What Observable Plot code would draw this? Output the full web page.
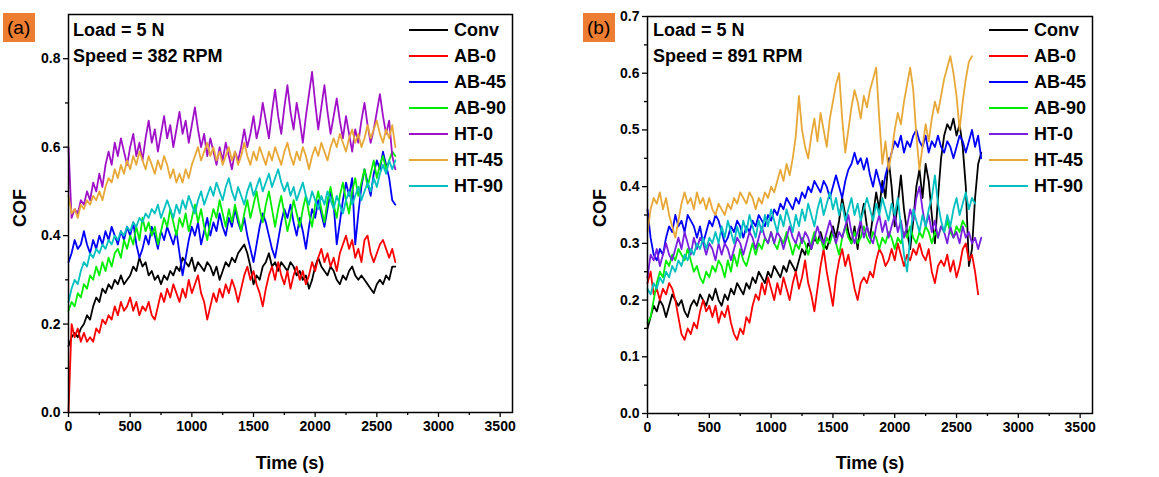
<!DOCTYPE html>
<html>
<head>
<meta charset="utf-8">
<script src="https://cdn.jsdelivr.net/npm/d3@7"></script>
<script src="https://cdn.jsdelivr.net/npm/@observablehq/plot@0.6"></script>
<style>
  html, body { margin: 0; padding: 0; background: #fff; }
  #wrap { position: relative; width: 1159px; height: 477px; overflow: hidden; font-family: "Liberation Sans", Arial, sans-serif; }
  .panel { position: absolute; top: 0; }
  .panel text { font-size: 14px !important; font-weight: bold; fill: #000; }
  .txt { position: absolute; font-weight: bold; font-size: 18px; color: #000; white-space: nowrap; line-height: 1; }
  .tag { position: absolute; background: #ed7d31; font-size: 19px; color: #000; line-height: 1; padding: 5px 5px 5px 4px; }
  .leg { position: absolute; height: 2px; width: 39px; }
  .ylab { position: absolute; font-weight: bold; font-size: 18px; transform: translate(-50%, -50%) rotate(-90deg); white-space: nowrap; }
</style>
</head>
<body>
<div id="wrap"></div>
<script>
// ---------------- data ----------------
const timeStep = 25; // s between samples
const seriesNames = ["Conv", "AB-0", "AB-45", "AB-90", "HT-0", "HT-45", "HT-90"];
const colorsA = ["#000000", "#ff0000", "#0000ff", "#00ee00", "#a010c8", "#e8a838", "#00c0c0"];
const colorsB = ["#000000", "#ff0000", "#0000ff", "#00ee00", "#7a1ee0", "#e8a838", "#00c0c0"];
const xTicks = [0, 500, 1000, 1500, 2000, 2500, 3000, 3500];
const xMinorTicks = [250, 750, 1250, 1750, 2250, 2750, 3250];
const yTicksA = [0, 0.2, 0.4, 0.6, 0.8];
const yMinorA = [0.1, 0.3, 0.5, 0.7];
const yTicksB = [0, 0.1, 0.2, 0.3, 0.4, 0.5, 0.6, 0.7];
const yMinorB = [0.05, 0.15, 0.25, 0.35, 0.45, 0.55, 0.65];

// Panel (a): Load = 5 N, Speed = 382 RPM
const convA = [0.15,0.17,0.18,0.17,0.19,0.20,0.22,0.21,0.24,0.26,0.25,0.28,0.27,0.29,0.28,0.30,0.29,0.31,0.29,0.30,0.31,0.33,0.32,0.35,0.33,0.34,0.31,0.32,0.30,0.31,0.29,0.31,0.30,0.32,0.31,0.33,0.32,0.35,0.34,0.33,0.35,0.32,0.34,0.33,0.32,0.34,0.33,0.31,0.33,0.30,0.32,0.34,0.33,0.35,0.34,0.36,0.37,0.38,0.36,0.33,0.29,0.31,0.30,0.33,0.34,0.36,0.33,0.34,0.32,0.34,0.33,0.32,0.34,0.33,0.31,0.32,0.30,0.31,0.28,0.30,0.33,0.35,0.33,0.32,0.31,0.33,0.32,0.30,0.29,0.31,0.30,0.32,0.33,0.31,0.30,0.31,0.30,0.29,0.28,0.27,0.29,0.30,0.29,0.31,0.30,0.33,0.33];
const ab0A = [0.0,0.20,0.17,0.19,0.16,0.18,0.16,0.17,0.16,0.19,0.18,0.21,0.20,0.22,0.21,0.24,0.22,0.25,0.23,0.24,0.26,0.23,0.25,0.22,0.24,0.23,0.25,0.22,0.21,0.24,0.27,0.25,0.28,0.26,0.29,0.27,0.25,0.28,0.26,0.30,0.27,0.29,0.31,0.27,0.25,0.21,0.24,0.27,0.25,0.28,0.26,0.29,0.27,0.30,0.28,0.25,0.28,0.31,0.33,0.30,0.32,0.29,0.27,0.24,0.28,0.31,0.33,0.30,0.34,0.31,0.29,0.32,0.28,0.31,0.33,0.30,0.32,0.29,0.31,0.34,0.32,0.35,0.37,0.34,0.36,0.33,0.35,0.32,0.36,0.38,0.40,0.37,0.39,0.35,0.37,0.34,0.39,0.40,0.36,0.34,0.36,0.38,0.39,0.37,0.35,0.37,0.34];
const ab45A = [0.34,0.36,0.39,0.37,0.38,0.41,0.38,0.36,0.39,0.37,0.40,0.38,0.41,0.39,0.42,0.40,0.38,0.41,0.39,0.42,0.40,0.43,0.38,0.35,0.37,0.40,0.38,0.42,0.40,0.37,0.41,0.39,0.42,0.40,0.38,0.41,0.36,0.31,0.35,0.39,0.42,0.40,0.43,0.38,0.41,0.44,0.40,0.43,0.41,0.45,0.42,0.40,0.44,0.42,0.46,0.43,0.41,0.44,0.40,0.37,0.34,0.38,0.42,0.45,0.43,0.40,0.37,0.35,0.39,0.43,0.46,0.44,0.47,0.43,0.40,0.44,0.41,0.37,0.42,0.46,0.44,0.48,0.45,0.42,0.46,0.50,0.47,0.38,0.43,0.48,0.52,0.49,0.53,0.38,0.45,0.51,0.55,0.52,0.49,0.54,0.57,0.55,0.59,0.56,0.53,0.48,0.47];
const ab90A = [0.23,0.25,0.24,0.27,0.26,0.29,0.28,0.31,0.30,0.33,0.31,0.34,0.32,0.35,0.33,0.36,0.37,0.35,0.39,0.37,0.40,0.38,0.42,0.39,0.44,0.41,0.43,0.40,0.42,0.38,0.41,0.44,0.42,0.46,0.43,0.40,0.44,0.42,0.45,0.41,0.44,0.47,0.43,0.46,0.42,0.39,0.43,0.46,0.44,0.48,0.45,0.42,0.46,0.43,0.47,0.44,0.41,0.45,0.48,0.44,0.47,0.50,0.46,0.43,0.47,0.50,0.46,0.42,0.46,0.49,0.45,0.41,0.44,0.48,0.45,0.42,0.46,0.49,0.45,0.42,0.47,0.50,0.46,0.43,0.48,0.51,0.47,0.44,0.49,0.52,0.48,0.45,0.50,0.53,0.49,0.52,0.55,0.51,0.54,0.57,0.53,0.56,0.58,0.55,0.57,0.59,0.58];
const ht0A = [0.60,0.44,0.46,0.45,0.48,0.47,0.50,0.48,0.52,0.50,0.54,0.51,0.56,0.59,0.56,0.61,0.58,0.62,0.59,0.56,0.60,0.63,0.58,0.61,0.57,0.62,0.66,0.61,0.64,0.59,0.63,0.67,0.62,0.65,0.60,0.64,0.68,0.63,0.66,0.61,0.65,0.69,0.64,0.60,0.63,0.58,0.62,0.59,0.56,0.60,0.57,0.61,0.58,0.55,0.59,0.57,0.60,0.64,0.60,0.63,0.67,0.62,0.65,0.70,0.66,0.62,0.68,0.73,0.67,0.63,0.69,0.74,0.68,0.64,0.70,0.66,0.61,0.67,0.72,0.77,0.70,0.64,0.69,0.74,0.68,0.63,0.67,0.71,0.66,0.62,0.67,0.63,0.59,0.64,0.61,0.66,0.70,0.65,0.61,0.64,0.68,0.72,0.67,0.63,0.66,0.58,0.55];
const ht45A = [0.49,0.45,0.46,0.44,0.47,0.46,0.48,0.47,0.49,0.48,0.50,0.48,0.51,0.53,0.52,0.55,0.53,0.56,0.54,0.57,0.55,0.58,0.56,0.59,0.57,0.55,0.58,0.56,0.54,0.57,0.55,0.58,0.56,0.53,0.55,0.52,0.54,0.52,0.55,0.53,0.56,0.58,0.60,0.57,0.59,0.61,0.58,0.60,0.57,0.59,0.56,0.58,0.60,0.57,0.59,0.56,0.58,0.61,0.58,0.56,0.59,0.57,0.60,0.58,0.56,0.59,0.57,0.60,0.58,0.56,0.59,0.61,0.58,0.56,0.59,0.57,0.60,0.58,0.55,0.58,0.60,0.58,0.61,0.59,0.57,0.60,0.62,0.60,0.63,0.61,0.59,0.62,0.64,0.61,0.63,0.60,0.62,0.65,0.62,0.64,0.66,0.63,0.61,0.64,0.62,0.65,0.60];
const ht90A = [0.25,0.28,0.30,0.29,0.32,0.34,0.33,0.36,0.35,0.37,0.36,0.38,0.37,0.39,0.38,0.40,0.39,0.41,0.40,0.42,0.41,0.43,0.42,0.44,0.43,0.45,0.44,0.46,0.45,0.47,0.44,0.46,0.48,0.46,0.44,0.47,0.45,0.48,0.46,0.49,0.47,0.45,0.48,0.50,0.47,0.49,0.51,0.49,0.52,0.50,0.48,0.51,0.53,0.50,0.48,0.51,0.49,0.47,0.50,0.52,0.49,0.51,0.53,0.50,0.52,0.54,0.51,0.53,0.55,0.52,0.50,0.52,0.49,0.51,0.48,0.50,0.52,0.49,0.47,0.50,0.48,0.46,0.49,0.47,0.50,0.48,0.46,0.49,0.47,0.45,0.48,0.50,0.47,0.49,0.51,0.48,0.50,0.52,0.50,0.53,0.51,0.54,0.56,0.54,0.57,0.55,0.57];

// Panel (b): Load = 5 N, Speed = 891 RPM
const convB = [0.15,0.17,0.19,0.18,0.20,0.19,0.17,0.19,0.21,0.20,0.19,0.20,0.18,0.17,0.19,0.20,0.19,0.21,0.20,0.19,0.21,0.20,0.22,0.20,0.19,0.21,0.20,0.22,0.21,0.23,0.22,0.21,0.23,0.22,0.24,0.23,0.25,0.24,0.23,0.25,0.24,0.26,0.25,0.24,0.26,0.25,0.27,0.26,0.25,0.27,0.29,0.28,0.30,0.29,0.31,0.30,0.32,0.30,0.29,0.31,0.33,0.31,0.34,0.38,0.35,0.32,0.30,0.33,0.29,0.34,0.37,0.33,0.31,0.35,0.39,0.36,0.41,0.38,0.45,0.40,0.33,0.37,0.42,0.36,0.32,0.29,0.34,0.40,0.43,0.38,0.44,0.41,0.35,0.30,0.38,0.45,0.49,0.51,0.50,0.52,0.49,0.51,0.47,0.40,0.26,0.29,0.38,0.44,0.46];
const ab0B = [0.23,0.25,0.21,0.22,0.20,0.22,0.21,0.23,0.22,0.20,0.17,0.14,0.13,0.15,0.14,0.16,0.15,0.18,0.20,0.18,0.19,0.17,0.19,0.16,0.18,0.17,0.19,0.16,0.14,0.13,0.15,0.14,0.17,0.16,0.19,0.21,0.20,0.23,0.21,0.24,0.22,0.20,0.23,0.21,0.24,0.22,0.20,0.23,0.25,0.22,0.24,0.27,0.23,0.21,0.18,0.22,0.26,0.29,0.25,0.22,0.19,0.24,0.27,0.29,0.26,0.28,0.25,0.22,0.20,0.23,0.24,0.23,0.25,0.24,0.27,0.29,0.28,0.26,0.27,0.29,0.27,0.30,0.28,0.26,0.28,0.27,0.29,0.28,0.30,0.28,0.27,0.29,0.25,0.23,0.26,0.27,0.26,0.28,0.25,0.27,0.24,0.26,0.29,0.30,0.27,0.28,0.25,0.21];
const ab45B = [0.36,0.31,0.28,0.27,0.29,0.28,0.31,0.33,0.32,0.35,0.33,0.34,0.32,0.35,0.34,0.33,0.31,0.33,0.30,0.32,0.34,0.33,0.35,0.34,0.32,0.30,0.31,0.33,0.32,0.34,0.33,0.31,0.33,0.32,0.34,0.33,0.35,0.34,0.33,0.35,0.34,0.36,0.35,0.37,0.36,0.38,0.37,0.36,0.38,0.37,0.39,0.38,0.40,0.39,0.41,0.40,0.39,0.41,0.40,0.38,0.40,0.42,0.40,0.38,0.41,0.43,0.44,0.46,0.44,0.45,0.43,0.45,0.42,0.40,0.43,0.41,0.39,0.42,0.44,0.46,0.48,0.47,0.49,0.46,0.48,0.47,0.49,0.50,0.48,0.47,0.49,0.46,0.48,0.47,0.49,0.47,0.46,0.48,0.47,0.45,0.47,0.49,0.48,0.46,0.48,0.50,0.47,0.49,0.45];
const ab90B = [0.16,0.17,0.20,0.23,0.25,0.24,0.27,0.26,0.28,0.27,0.29,0.28,0.27,0.29,0.27,0.25,0.26,0.24,0.23,0.25,0.24,0.26,0.25,0.27,0.26,0.24,0.27,0.25,0.28,0.26,0.29,0.27,0.26,0.28,0.30,0.28,0.30,0.29,0.31,0.30,0.32,0.30,0.29,0.31,0.30,0.32,0.30,0.28,0.30,0.29,0.31,0.30,0.28,0.30,0.32,0.30,0.31,0.29,0.31,0.30,0.32,0.30,0.28,0.31,0.33,0.31,0.30,0.32,0.30,0.31,0.33,0.31,0.30,0.32,0.31,0.29,0.31,0.30,0.32,0.31,0.29,0.31,0.30,0.32,0.31,0.33,0.31,0.30,0.32,0.31,0.33,0.32,0.30,0.32,0.31,0.33,0.32,0.34,0.32,0.31,0.33,0.32,0.34,0.33];
const ht0B = [0.24,0.28,0.27,0.29,0.26,0.28,0.30,0.28,0.27,0.29,0.31,0.29,0.32,0.30,0.28,0.31,0.29,0.31,0.30,0.28,0.30,0.29,0.27,0.30,0.28,0.30,0.29,0.27,0.29,0.31,0.30,0.28,0.30,0.32,0.31,0.29,0.31,0.33,0.31,0.30,0.32,0.30,0.32,0.31,0.29,0.31,0.33,0.31,0.30,0.32,0.30,0.32,0.31,0.29,0.31,0.33,0.31,0.30,0.32,0.34,0.32,0.30,0.32,0.31,0.33,0.35,0.32,0.30,0.32,0.34,0.31,0.33,0.31,0.30,0.33,0.35,0.32,0.34,0.31,0.33,0.35,0.32,0.34,0.31,0.33,0.36,0.34,0.38,0.40,0.36,0.33,0.35,0.32,0.34,0.31,0.33,0.32,0.30,0.33,0.31,0.32,0.30,0.33,0.31,0.32,0.30,0.31,0.29,0.31];
const ht45B = [0.32,0.36,0.38,0.37,0.39,0.36,0.38,0.35,0.33,0.31,0.34,0.37,0.39,0.37,0.38,0.36,0.39,0.37,0.38,0.36,0.38,0.36,0.35,0.37,0.36,0.35,0.37,0.36,0.38,0.37,0.39,0.38,0.37,0.39,0.38,0.36,0.38,0.37,0.39,0.38,0.40,0.39,0.41,0.43,0.41,0.44,0.42,0.45,0.49,0.56,0.50,0.47,0.45,0.49,0.52,0.48,0.53,0.50,0.47,0.52,0.55,0.58,0.60,0.52,0.46,0.50,0.54,0.57,0.55,0.52,0.56,0.54,0.57,0.59,0.61,0.52,0.44,0.48,0.43,0.46,0.50,0.53,0.51,0.55,0.58,0.61,0.57,0.49,0.43,0.47,0.51,0.48,0.52,0.55,0.53,0.56,0.59,0.61,0.63,0.60,0.56,0.50,0.55,0.59,0.62,0.63];
const ht90B = [0.22,0.21,0.23,0.22,0.24,0.23,0.25,0.24,0.26,0.25,0.27,0.26,0.28,0.27,0.29,0.28,0.30,0.29,0.31,0.29,0.31,0.30,0.32,0.30,0.33,0.31,0.34,0.32,0.30,0.33,0.31,0.34,0.32,0.35,0.33,0.31,0.34,0.32,0.35,0.33,0.36,0.34,0.32,0.35,0.33,0.36,0.34,0.32,0.35,0.33,0.36,0.34,0.37,0.35,0.33,0.36,0.38,0.35,0.37,0.39,0.36,0.38,0.35,0.37,0.34,0.36,0.38,0.35,0.37,0.34,0.36,0.38,0.36,0.34,0.37,0.35,0.38,0.36,0.34,0.37,0.35,0.38,0.33,0.28,0.25,0.31,0.36,0.34,0.32,0.35,0.33,0.36,0.38,0.42,0.37,0.34,0.32,0.35,0.33,0.36,0.38,0.35,0.37,0.39,0.36,0.38,0.37];

const seriesA = [convA, ab0A, ab45A, ab90A, ht0A, ht45A, ht90A];
const seriesB = [convB, ab0B, ab45B, ab90B, ht0B, ht45B, ht90B];

// ---------------- build ----------------
function rows(series) {
  const out = [];
  series.forEach((vals, k) => vals.forEach((v, i) => out.push({t: i * timeStep, cof: v, s: seriesNames[k]})));
  return out;
}

function panel(series, colors, yMax, yTicks, yMinor, w, mL, mR, mT, mB) {
  return Plot.plot({
    width: w, height: 477,
    marginLeft: mL, marginRight: mR, marginTop: mT, marginBottom: mB,
    x: {domain: [0, 3600]},
    y: {domain: [0, yMax]},
    color: {domain: seriesNames, range: colors},
    style: {fontFamily: "'Liberation Sans', Arial, sans-serif", fontWeight: "bold", fontSize: "14px", color: "#000", background: "transparent", overflow: "visible"},
    marks: [
      Plot.line(rows(series), {x: "t", y: "cof", z: "s", stroke: "s", strokeWidth: 1.8}),
      Plot.frame({stroke: "#000", strokeWidth: 1.5}),
      Plot.axisX({ticks: xTicks, tickSize: 5, tickPadding: 4, fontSize: 14, tickFormat: d3.format("d"), label: null, strokeWidth: 1.3}),
      Plot.axisX({ticks: xMinorTicks, tickSize: 3, tickFormat: () => "", label: null, strokeWidth: 1.3}),
      Plot.axisY({ticks: yTicks, tickSize: 5, tickPadding: 3, fontSize: 14, tickFormat: d3.format(".1f"), label: null, strokeWidth: 1.3}),
      Plot.axisY({ticks: yMinor, tickSize: 3, tickFormat: () => "", label: null, strokeWidth: 1.3})
    ]
  });
}

const wrap = document.getElementById("wrap");
function add(el, left) { el.classList.add("panel"); el.style.left = left + "px"; wrap.appendChild(el); }

add(panel(seriesA, colorsA, 0.9, yTicksA, yMinorA, 580, 68, 68, 14, 65), 0);
add(panel(seriesB, colorsB, 0.7, yTicksB, yMinorB, 579, 67, 67, 16, 64), 580);

function html(cls, text, css) {
  const d = document.createElement("div");
  d.className = cls; d.textContent = text;
  Object.assign(d.style, css);
  wrap.appendChild(d);
  return d;
}

function decorate(off, tag, speed, colors) {
  html("tag", tag, {left: (off + 3) + "px", top: "13px"});
  html("txt", "Load = 5 N", {left: (off + 73) + "px", top: "21px"});
  html("txt", speed, {left: (off + 73) + "px", top: "47px"});
  html("ylab", "COF", {left: (off + 20) + "px", top: "208px"});
  html("txt", "Time (s)", {left: (off + 290) + "px", top: "454px", transform: "translateX(-50%)"});
  seriesNames.forEach((n, k) => {
    const y = 30 + k * 26;
    html("leg", "", {left: (off + 409) + "px", top: (y - 1) + "px", background: colors[k]});
    html("txt", n, {left: (off + 454) + "px", top: (y - 9) + "px"});
  });
}
decorate(0, "(a)", "Speed = 382 RPM", colorsA);
decorate(580, "(b)", "Speed = 891 RPM", colorsB);
</script>
</body>
</html>
